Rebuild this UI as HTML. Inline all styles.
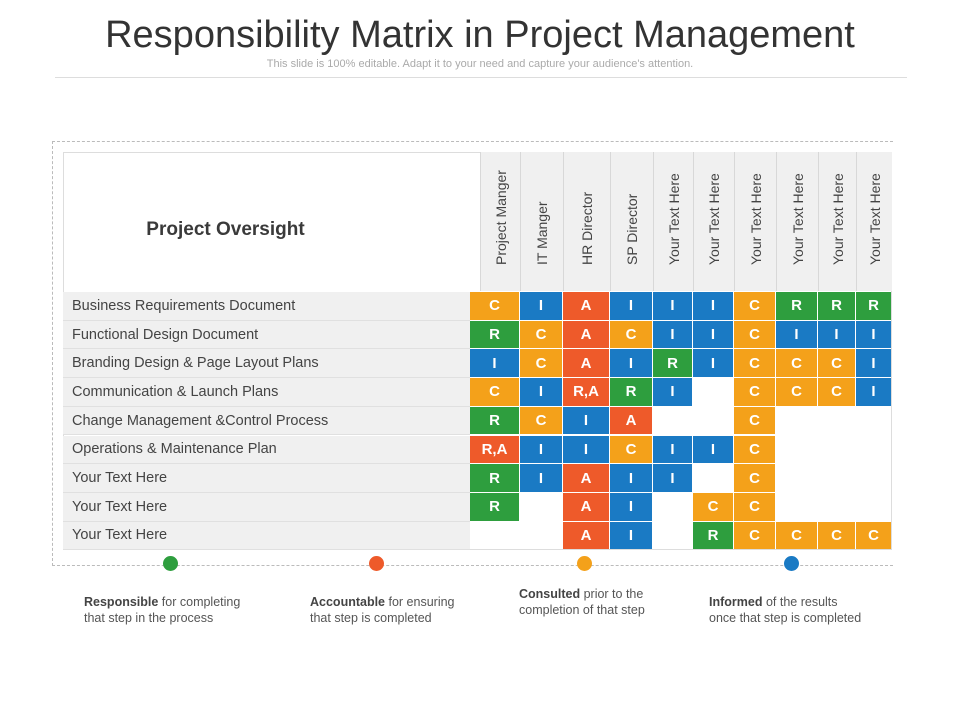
<!DOCTYPE html>
<html><head><meta charset="utf-8">
<style>
body{margin:0;width:960px;height:720px;background:#fff;position:relative;overflow:hidden;font-family:"Liberation Sans",Arial,sans-serif;}
.abs{position:absolute;}
.cell{position:absolute;color:#fff;font-weight:bold;font-size:15px;display:flex;align-items:center;justify-content:center;box-sizing:border-box;}
.rowlbl{position:absolute;left:63px;width:407px;background:#f0f0f0;color:#444;font-size:14.5px;box-sizing:border-box;padding-left:9px;display:flex;align-items:center;border-bottom:1px solid #e0e0e0;}
.colh{position:absolute;top:152px;height:139px;background:#f0f0f0;border-left:1px solid #d8d8d8;box-sizing:border-box;}
.colh span{position:absolute;left:50%;bottom:10px;transform-origin:0 0;transform:rotate(-90deg) translateY(-50%);white-space:nowrap;font-size:14px;color:#444;}
.leg{position:absolute;font-size:12.5px;color:#555;line-height:16px;}
.leg b{color:#444;}
.dot{position:absolute;width:15px;height:15px;border-radius:50%;top:556px;}
</style></head><body>
<div class="abs" style="left:0;width:960px;top:14px;text-align:center;font-size:38px;color:#333;">Responsibility Matrix in Project Management</div>
<div class="abs" style="left:0;width:960px;top:58px;text-align:center;font-size:11px;color:#aaa;">This slide is 100% editable. Adapt it to your need and capture your audience's attention.</div>
<div class="abs" style="left:55px;width:852px;top:77px;border-top:1px solid #ddd;"></div>
<div class="abs" style="left:52px;top:141px;width:840px;height:423px;border-top:1px dashed #bbb;border-left:1px dashed #bbb;border-bottom:1px dashed #bbb;"></div>
<div class="abs" style="left:63px;top:152px;width:829px;height:398px;border:1px solid #ddd;box-sizing:border-box;"></div>
<div class="abs" style="left:63px;width:325px;top:219px;text-align:center;font-size:19px;font-weight:bold;color:#3a3a3a;">Project Oversight</div>
<div id="grid"></div>
<div class="dot" style="left:163px;background:#2e9e3e;"></div>
<div class="dot" style="left:369px;background:#ee5a2a;"></div>
<div class="dot" style="left:577px;background:#f4a11a;"></div>
<div class="dot" style="left:784px;background:#1a7ac4;"></div>
<div class="leg" style="left:84px;top:594px;"><b>Responsible</b> for completing<br>that step in the process</div>
<div class="leg" style="left:310px;top:594px;"><b>Accountable</b> for ensuring<br>that step is completed</div>
<div class="leg" style="left:519px;top:586px;"><b>Consulted</b> prior to the<br>completion of that step</div>
<div class="leg" style="left:709px;top:594px;"><b>Informed</b> of the results<br>once that step is completed</div>
<script>
const roles=["Project Manger","IT Manger","HR Director","SP Director","Your Text Here","Your Text Here","Your Text Here","Your Text Here","Your Text Here","Your Text Here"];
const tasks=["Business Requirements Document","Functional Design Document","Branding Design & Page Layout Plans","Communication & Launch Plans","Change Management &Control Process","Operations & Maintenance Plan","Your Text Here","Your Text Here","Your Text Here"];
const matrix=[
["C","I","A","I","I","I","C","R","R","R"],
["R","C","A","C","I","I","C","I","I","I"],
["I","C","A","I","R","I","C","C","C","I"],
["C","I","R,A","R","I","","C","C","C","I"],
["R","C","I","A","","","C","","",""],
["R,A","I","I","C","I","I","C","","",""],
["R","I","A","I","I","","C","","",""],
["R","","A","I","","C","C","","",""],
["","","A","I","","R","C","C","C","C"]];
const colEdges=[470,520,563,610,653,693,734,776,818,856,892];
const rowTop=292,rowH=28.7;
const colors={"R":"#2e9e3e","I":"#1a7ac4","C":"#f4a11a","A":"#ee5a2a","R,A":"#ee5a2a"};
const g=document.getElementById('grid');
roles.forEach((r,i)=>{
  const d=document.createElement('div');d.className='colh';
  
  
  const x0=i===0?480:colEdges[i];
  d.style.left=x0+'px';d.style.width=(colEdges[i+1]-x0)+'px';
  d.innerHTML='<span>'+r+'</span>';g.appendChild(d);
});
tasks.forEach((t,j)=>{
  const d=document.createElement('div');d.className='rowlbl';
  
  
  d.style.top=(rowTop+j*rowH)+'px';d.style.height=rowH+'px';
  d.textContent=t;g.appendChild(d);
  matrix[j].forEach((v,i)=>{
    if(!v)return;
    const c=document.createElement('div');c.className='cell';
    
    
    c.style.left=colEdges[i]+'px';c.style.width=(colEdges[i+1]-colEdges[i]-1)+'px';
    c.style.top=(rowTop+j*rowH)+'px';c.style.height=(rowH-1)+'px';
    c.style.background=colors[v];c.textContent=v;g.appendChild(c);
  });
});
</script>
</body></html>
